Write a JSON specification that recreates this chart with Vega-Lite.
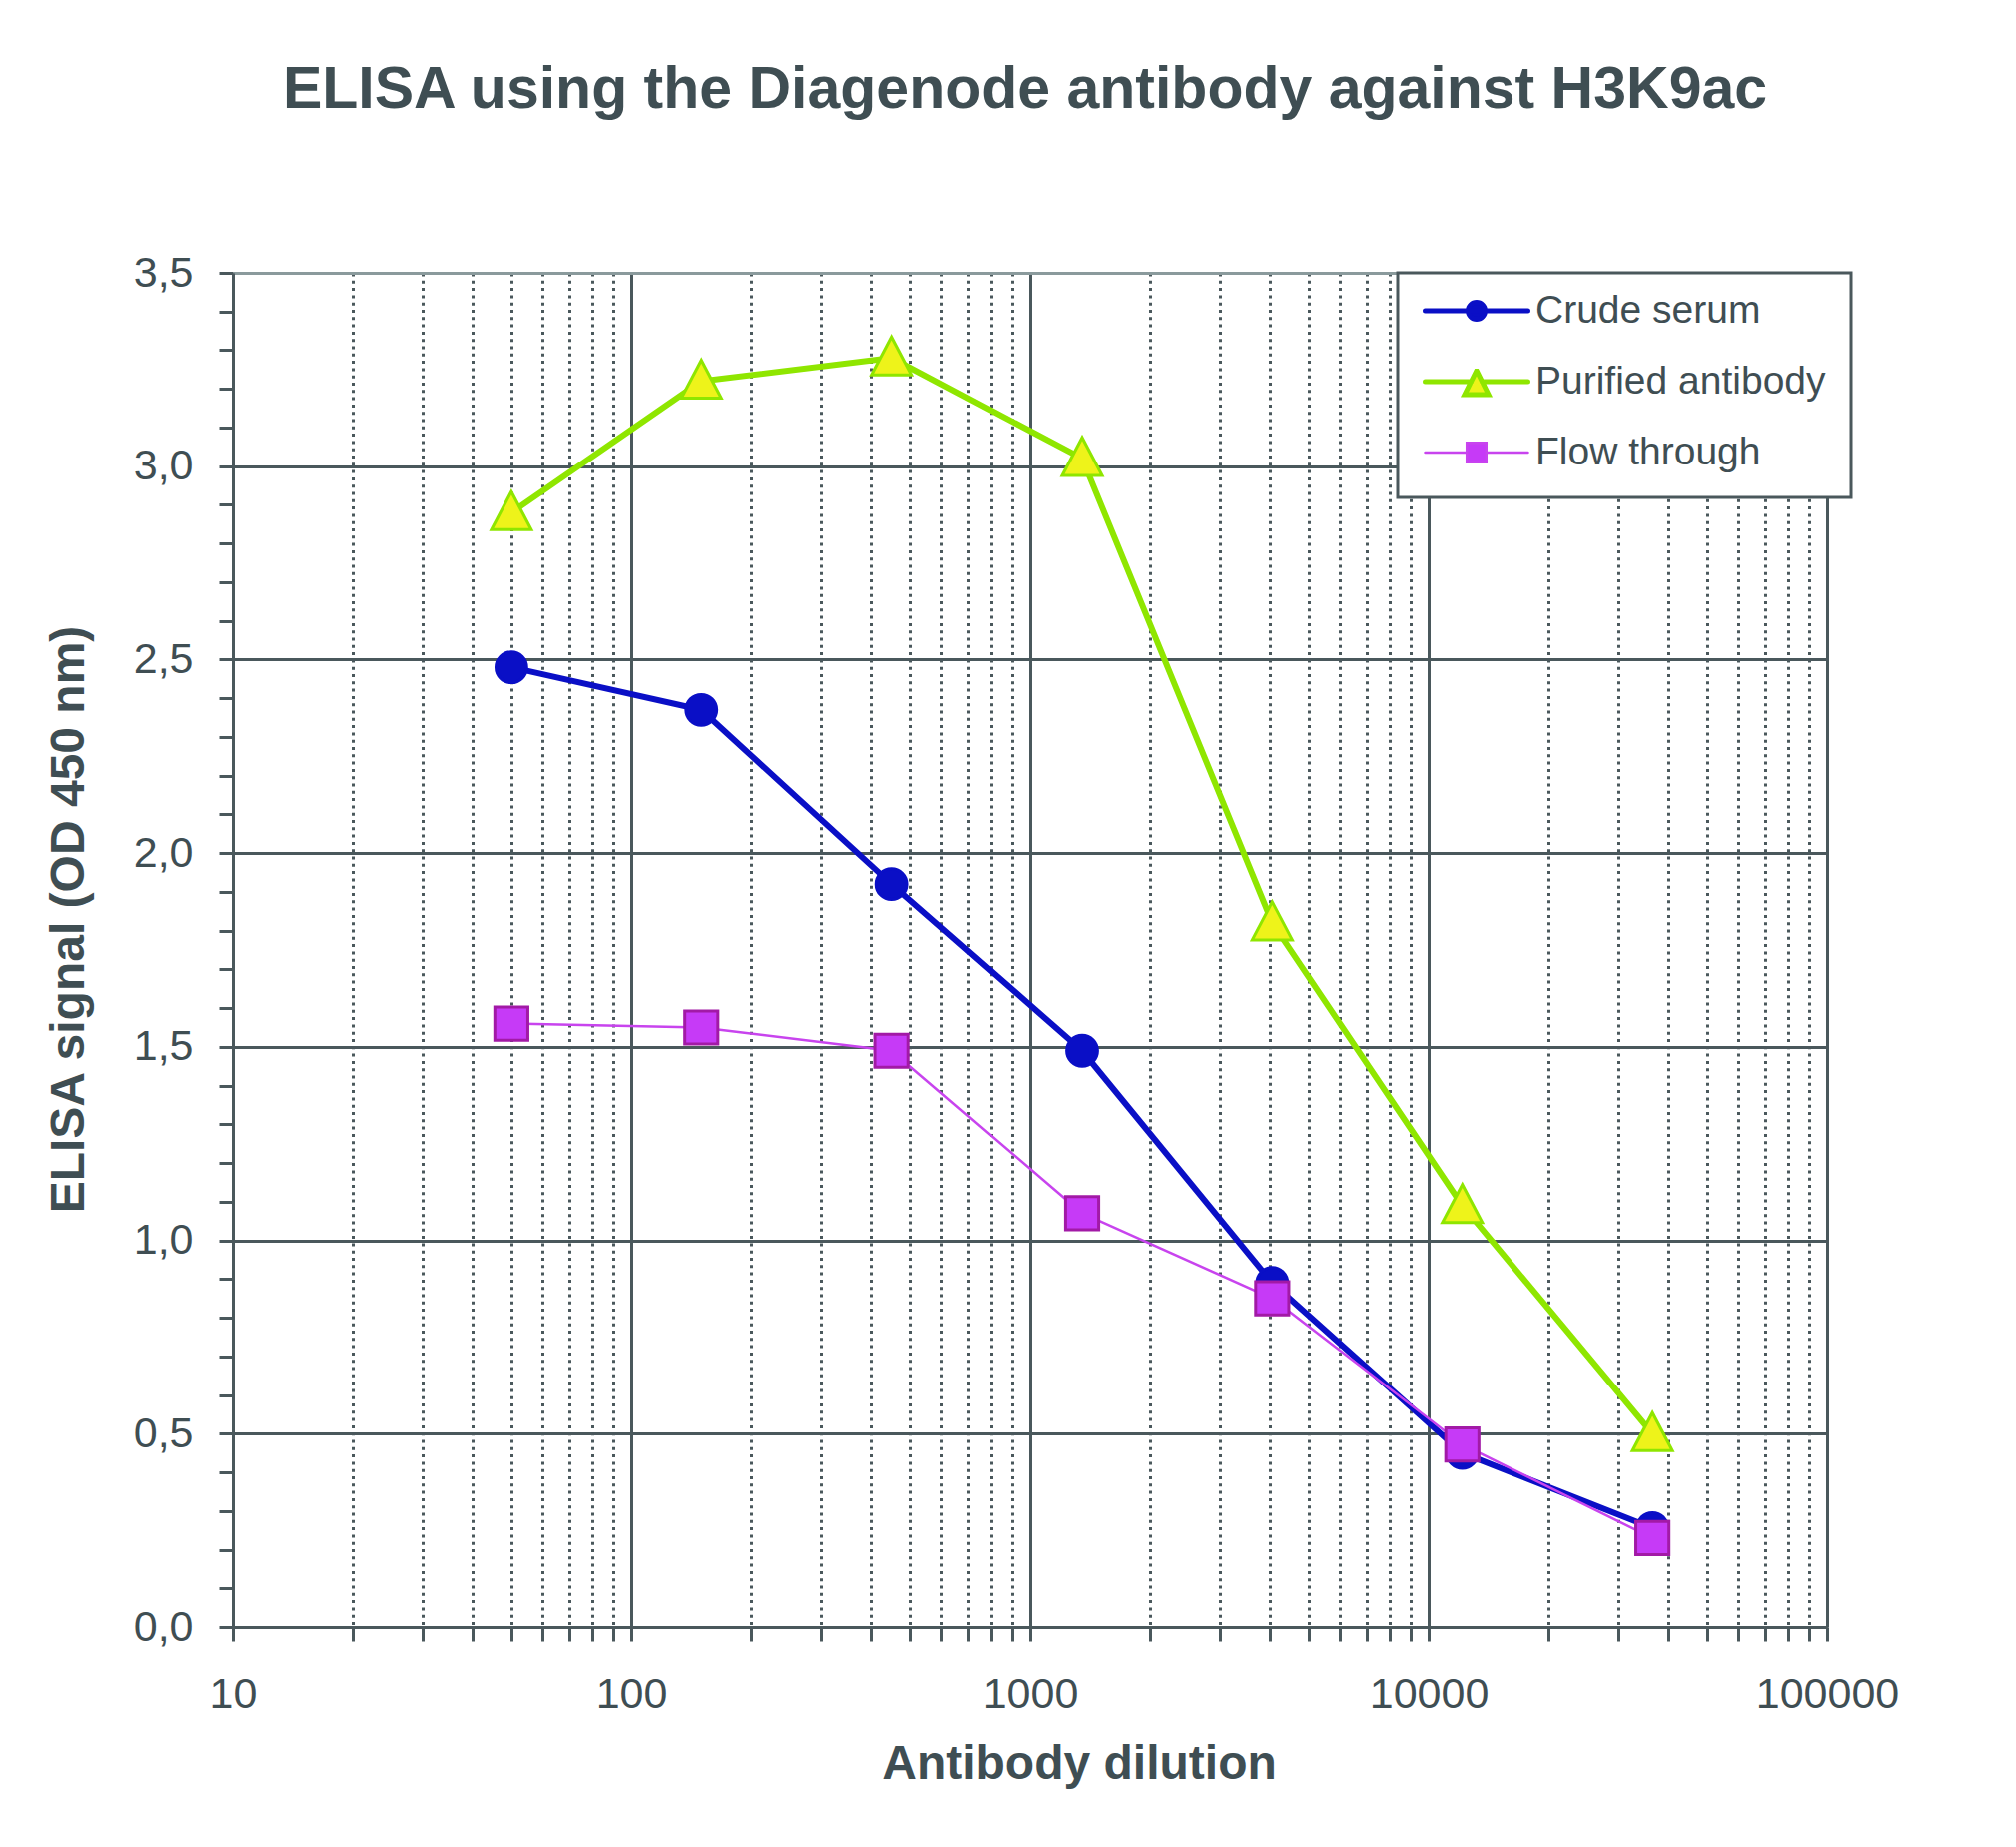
{
  "$schema": "https://vega.github.io/schema/vega-lite/v6.json",
  "width": 1596,
  "height": 1356,
  "autosize": {"type": "none"},
  "padding": {"left": 233, "top": 273, "right": 189, "bottom": 220},
  "background": "white",
  "title": {
    "text": "ELISA using the Diagenode antibody against H3K9ac",
    "anchor": "middle", "frame": "group",
    "font": "Liberation Sans", "fontSize": 59, "fontWeight": "bold",
    "color": "#3f4e53", "baseline": "alphabetic", "offset": 85, "dx": -5
  },
  "data": {
    "values": [
      {"series": "Crude serum", "dilution": 50, "od": 2.48},
      {"series": "Crude serum", "dilution": 150, "od": 2.37},
      {"series": "Crude serum", "dilution": 450, "od": 1.92},
      {"series": "Crude serum", "dilution": 1350, "od": 1.49},
      {"series": "Crude serum", "dilution": 4050, "od": 0.89},
      {"series": "Crude serum", "dilution": 12150, "od": 0.45},
      {"series": "Crude serum", "dilution": 36450, "od": 0.256},
      {"series": "Purified antibody", "dilution": 50, "od": 2.88},
      {"series": "Purified antibody", "dilution": 150, "od": 3.22},
      {"series": "Purified antibody", "dilution": 450, "od": 3.28},
      {"series": "Purified antibody", "dilution": 1350, "od": 3.02},
      {"series": "Purified antibody", "dilution": 4050, "od": 1.82},
      {"series": "Purified antibody", "dilution": 12150, "od": 1.09},
      {"series": "Purified antibody", "dilution": 36450, "od": 0.5},
      {"series": "Flow through", "dilution": 50, "od": 1.56},
      {"series": "Flow through", "dilution": 150, "od": 1.55},
      {"series": "Flow through", "dilution": 450, "od": 1.49},
      {"series": "Flow through", "dilution": 1350, "od": 1.07},
      {"series": "Flow through", "dilution": 4050, "od": 0.85},
      {"series": "Flow through", "dilution": 12150, "od": 0.472},
      {"series": "Flow through", "dilution": 36450, "od": 0.23}
    ]
  },
  "encoding": {
    "x": {
      "field": "dilution", "type": "quantitative",
      "scale": {"type": "log", "domain": [10, 100000], "nice": false},
      "axis": {
        "title": "Antibody dilution",
        "values": [10, 20, 30, 40, 50, 60, 70, 80, 90, 100, 200, 300, 400, 500, 600, 700, 800, 900, 1000, 2000, 3000, 4000, 5000, 6000, 7000, 8000, 9000, 10000, 20000, 30000, 40000, 50000, 60000, 70000, 80000, 90000, 100000],
        "labelExpr": "indexof([10, 100, 1000, 10000, 100000], datum.value) >= 0 ? format(datum.value, 'd') : ''",
        "gridDash": {"condition": {"test": "indexof([10, 100, 1000, 10000, 100000], datum.value) >= 0", "value": []}, "value": [3, 4.3]},
        "gridColor": "#4a585c", "gridWidth": 3, "gridOpacity": 1,
        "labelPadding": 32,
        "titleX": 847, "titleY": 151, "titleBaseline": "alphabetic"
      }
    },
    "y": {
      "field": "od", "type": "quantitative",
      "scale": {"domain": [0, 3.5], "nice": false, "zero": true},
      "axis": {
        "title": "ELISA signal (OD 450 nm)",
        "values": [0, 0.1, 0.2, 0.3, 0.4, 0.5, 0.6, 0.7, 0.8, 0.9, 1, 1.1, 1.2, 1.3, 1.4, 1.5, 1.6, 1.7, 1.8, 1.9, 2, 2.1, 2.2, 2.3, 2.4, 2.5, 2.6, 2.7, 2.8, 2.9, 3, 3.1, 3.2, 3.3, 3.4, 3.5],
        "labelExpr": "abs(datum.value * 2 - round(datum.value * 2)) < 0.001 ? replace(format(datum.value, '.1f'), '.', ',') : ''",
        "gridOpacity": {"condition": {"test": "abs(datum.value * 2 - round(datum.value * 2)) < 0.001", "value": 1}, "value": 0},
        "gridColor": {"condition": {"test": "datum.value > 3.45", "value": "#8a9a9c"}, "value": "#4a585c"},
        "gridWidth": 3,
        "labelPadding": 26,
        "titleX": -150, "titleY": 647, "titleBaseline": "alphabetic", "titleAngle": -90
      }
    }
  },
  "layer": [
    {
      "transform": [{"filter": "datum.series === 'Crude serum'"}],
      "mark": {"type": "line", "strokeCap": "round", "strokeJoin": "round", "strokeWidth": 6},
      "encoding": {
        "color": {
          "field": "series", "type": "nominal",
          "scale": {"domain": ["Crude serum", "Purified antibody", "Flow through"], "range": ["#0a0fc6", "#8fe600", "#c844ee"]},
          "legend": {
            "title": null, "orient": "none", "legendX": 1166, "legendY": 0,
            "direction": "vertical", "columns": 1,
            "padding": 25, "clipHeight": 26, "rowPadding": 32,
            "symbolSize": 10609, "symbolStrokeWidth": 5,
            "fillColor": "white", "strokeColor": "#4a585c",
            "labelFont": "Liberation Sans", "labelFontSize": 39, "labelColor": "#3f4e53",
            "labelOffset": 5, "labelLimit": 400,
            "encode": {
              "legend": {"update": {"strokeWidth": {"value": 3}}},
              "symbols": {
                "update": {
                  "size": {"value": 10609},
                  "shape": {"signal": "(datum.value === 'Crude serum' ? 'M-1,0L1,0M-0.165,0A0.165,0.165,0,1,1,0.165,0A0.165,0.165,0,1,1,-0.165,0Z' : datum.value === 'Purified antibody' ? 'M-1,0L-0.107,0M0.107,0L1,0M0,-0.214L0.233,0.252L-0.233,0.252Z' : 'M-1,0L-0.19,0M0.19,0L1,0M-0.19,-0.19L0.19,-0.19L0.19,0.19L-0.19,0.19Z')"},
                  "fill": {"signal": "(datum.value === 'Crude serum' ? '#0a0fc6' : datum.value === 'Purified antibody' ? '#eef31a' : '#c63af7')"},
                  "fillOpacity": {"value": 1},
                  "stroke": {"signal": "(datum.value === 'Crude serum' ? '#0a0fc6' : datum.value === 'Purified antibody' ? '#8fe600' : '#c844ee')"},
                  "strokeWidth": {"signal": "(datum.value === 'Flow through' ? 2.5 : 5)"},
                  "strokeCap": {"value": "round"},
                  "opacity": {"value": 1}
                }
              }
            }
          }
        }
      }
    },
    {
      "transform": [{"filter": "datum.series === 'Purified antibody'"}],
      "mark": {"type": "line", "strokeCap": "round", "strokeJoin": "round", "strokeWidth": 6},
      "encoding": {"color": {"field": "series", "type": "nominal"}}
    },
    {
      "transform": [{"filter": "datum.series === 'Flow through'"}],
      "mark": {"type": "line", "strokeCap": "round", "strokeJoin": "round", "strokeWidth": 2.5},
      "encoding": {"color": {"field": "series", "type": "nominal"}}
    },
    {
      "transform": [{"filter": "datum.series === 'Crude serum'"}],
      "mark": {"type": "point", "shape": "circle", "size": 950, "filled": true, "opacity": 1, "fill": "#0a0fc6", "stroke": "#0a0fc6", "strokeWidth": 3}
    },
    {
      "transform": [{"filter": "datum.series === 'Purified antibody'"}],
      "mark": {"type": "point", "shape": "M0,-1.05L1,0.85L-1,0.85Z", "size": 1600, "filled": true, "opacity": 1, "fill": "#eef31a", "stroke": "#8fe600", "strokeWidth": 3}
    },
    {
      "transform": [{"filter": "datum.series === 'Flow through'"}],
      "mark": {"type": "point", "shape": "square", "size": 1100, "filled": true, "opacity": 1, "fill": "#c63af7", "stroke": "#a21aa6", "strokeWidth": 3}
    }
  ],
  "config": {
    "view": {"stroke": null},
    "axis": {
      "domainColor": "#4a585c", "domainWidth": 3,
      "tickColor": "#4a585c", "tickWidth": 3, "tickSize": 14,
      "labelFont": "Liberation Sans", "labelFontSize": 43, "labelColor": "#3f4e53",
      "labelOverlap": false, "labelBound": false, "labelFlush": false,
      "titleFont": "Liberation Sans", "titleFontSize": 48, "titleFontWeight": "bold", "titleColor": "#3f4e53",
      "grid": true
    }
  }
}
